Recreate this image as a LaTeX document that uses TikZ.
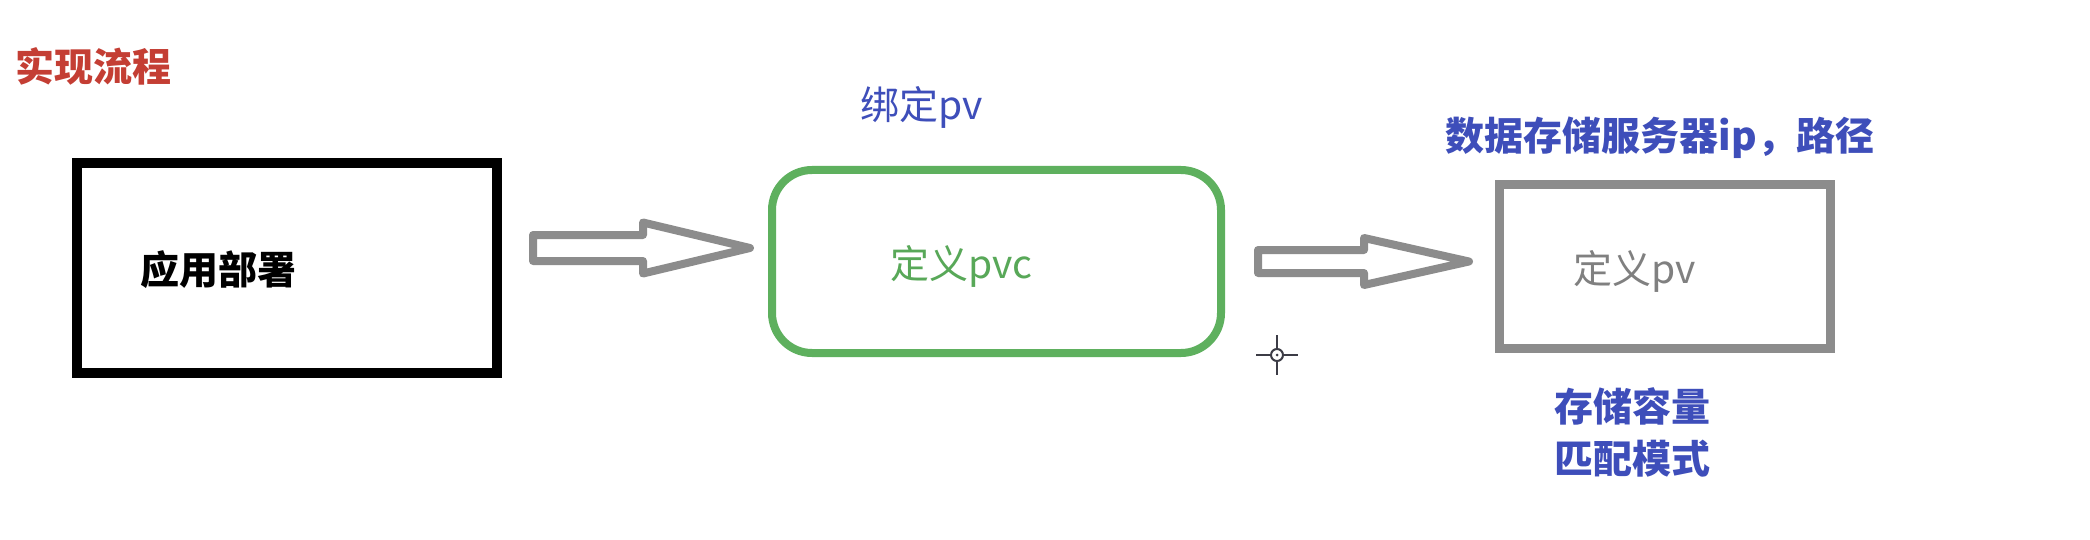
\documentclass[tikz,border=0pt]{standalone}
\usepackage{fontspec}
\setmainfont{Noto Sans CJK SC}
\usetikzlibrary{calc}
\definecolor{titlered}{RGB}{196,62,52}
\definecolor{noteblue}{RGB}{62,78,186}
\definecolor{boxgreen}{RGB}{94,176,94}
\definecolor{textgreen}{RGB}{88,168,88}
\definecolor{boxgray}{RGB}{140,140,140}
\definecolor{textgray}{RGB}{128,128,128}
\definecolor{cursorgray}{RGB}{60,60,70}
\newcommand\blkarrow[5]{% start, end, shaft half, head half, head length
  \draw[blockarrow] ($(#1)+(0,-#3)$) -- ($(#2)+(-#5,-#3)$) -- ($(#2)+(-#5,-#4)$) -- (#2)
    -- ($(#2)+(-#5,#4)$) -- ($(#2)+(-#5,#3)$) -- ($(#1)+(0,#3)$) -- cycle;}
\begin{document}
\begin{tikzpicture}[x=1pt,y=-1pt,
  every node/.style={inner sep=0pt},
  txt/.style={font=\fontsize{39}{52}\selectfont},
  boxbase/.style={draw, txt, align=left, text depth=0pt},
  appbox/.style={boxbase, line width=10pt, black, minimum width=420pt, minimum height=210pt, text width=294pt, inner xsep=63pt},
  pvcbox/.style={boxbase, line width=8pt, draw=boxgreen, text=textgreen, rounded corners=40pt, minimum width=449pt, minimum height=183pt, text width=213pt, inner xsep=118pt},
  pvbox/.style={boxbase, line width=9pt, draw=boxgray, text=textgray, minimum width=331pt, minimum height=164pt, text width=183pt, inner xsep=74pt},
  note/.style={txt, text=noteblue},
  blockarrow/.style={draw=boxgray, line width=8pt, line join=round},
  cursor/.style={draw=cursorgray, line width=2pt}
]
\useasboundingbox (0,0) rectangle (2090,540);
\fill[white] (0,0) rectangle (2090,540);

\node[txt, text=titlered, font=\fontsize{39}{52}\selectfont\bfseries] (title) at (94,66) {实现流程};

\node[appbox, font=\fontsize{39}{52}\selectfont\bfseries] (app) at (287,268) {应用部署};
\node[pvcbox] (pvc) at (996.5,261.5) {定义pvc};
\node[pvbox] (pv) at (1665,266.5) {定义pv};

\node[note] (bind) at (922,107) {绑定pv};
\node[note, font=\fontsize{39}{52}\selectfont\bfseries] (server) at (1660,138) {数据存储服务器ip，路径};
\node[note, align=center, font=\fontsize{39}{52}\selectfont\bfseries] (cap) at (1632,432) {存储容量\\匹配模式};

% block arrows
\coordinate (a1s) at ($(app.east)+(31,-20)$);
\coordinate (a1e) at ($(a1s -| pvc.west)+(-18,0)$);
\blkarrow{a1s}{a1e}{13}{25.5}{107}
\coordinate (a2s) at ($(pvc.east)+(33,0)$);
\coordinate (a2e) at ($(a2s -| pv.west)+(-26,0)$);
\blkarrow{a2s}{a2e}{11.5}{23.5}{105}

% mouse cursor
\coordinate (cur) at (1277,355);
\draw[cursor] ($(cur)+(-21,0)$) -- ($(cur)+(-6,0)$);
\draw[cursor] ($(cur)+(6,0)$) -- ($(cur)+(21,0)$);
\draw[cursor] ($(cur)+(0,-20)$) -- ($(cur)+(0,-6)$);
\draw[cursor] ($(cur)+(0,6)$) -- ($(cur)+(0,20)$);
\draw[cursor, fill=white] (cur) circle (6);
\fill[cursorgray] (cur) circle (1.5);
\end{tikzpicture}
\end{document}
